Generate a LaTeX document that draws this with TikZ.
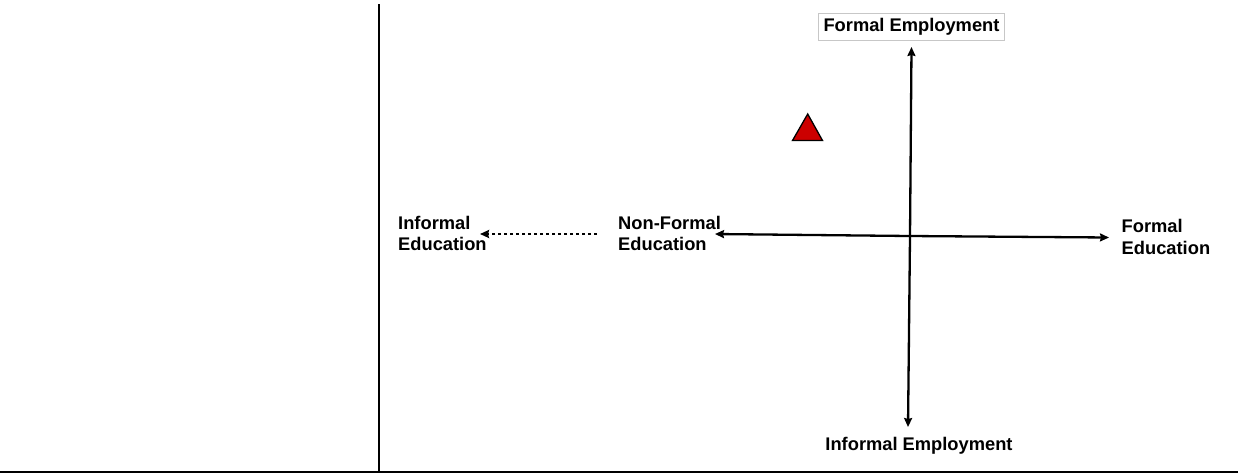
\documentclass[tikz,border=0pt]{standalone}
\usepackage{fontspec}
\setmainfont{Liberation Sans}
\usetikzlibrary{arrows.meta}
\begin{document}
\begin{tikzpicture}[x=1pt,y=-1pt,
  rule/.style={line width=2.4pt},
  axis/.style={line width=2.3pt,-{Stealth[length=9pt,width=8pt,inset=1pt]}},
  dotarrow/.style={line width=2.3pt,dash pattern=on 2.6pt off 3.4pt,-{Stealth[length=9pt,width=8pt,inset=1pt]}},
  lbl/.style={font=\fontsize{18.3}{21.5}\selectfont\bfseries,inner sep=0pt},
  twoline/.style={lbl,align=left,anchor=north west}]
\useasboundingbox (0,0) rectangle (1238,475);
% frame rules
\coordinate (vtop) at (378.7,4);
\coordinate (vbot) at (378.7,472);
\coordinate (hl) at (0,472);
\coordinate (hr) at (1238,472);
\draw[rule] (vtop) -- (vbot);
\draw[rule] (hl) -- (hr);
% axis labels
\node[lbl,draw=black!22,line width=0.7pt,inner xsep=5pt,inner ysep=5.2pt] (femp) at (911.5,27) {Formal Employment};
\node[lbl] (iemp) at (919,445.5) {Informal Employment};
\node[twoline] (ied) at (398,216) {Informal\\Education};
\node[twoline] (nfed) at (618,216) {Non-Formal\\Education};
\node[twoline] (fed) at (1121.5,219.5) {Formal\\Education};
% axes
\coordinate (vt) at (911.5,47);
\coordinate (vb) at (908,427);
\coordinate (hlft) at (715,234);
\coordinate (hrt) at (1109,237.5);
\coordinate (mid) at (910,236);
\draw[axis] (mid) -- (vt);
\draw[axis] (mid) -- (vb);
\draw[axis] (mid) -- (hlft);
\draw[axis] (mid) -- (hrt);
% dotted continuation towards informal education
\coordinate (ds) at (597,234);
\coordinate (de) at (480,234);
\draw[dotarrow] (ds) -- (de);
% marker
\draw[fill=red!80!black,line width=1.3pt,line join=miter] (807.7,114) -- (822.5,140.5) -- (792.5,140.5) -- cycle;
\end{tikzpicture}
\end{document}
